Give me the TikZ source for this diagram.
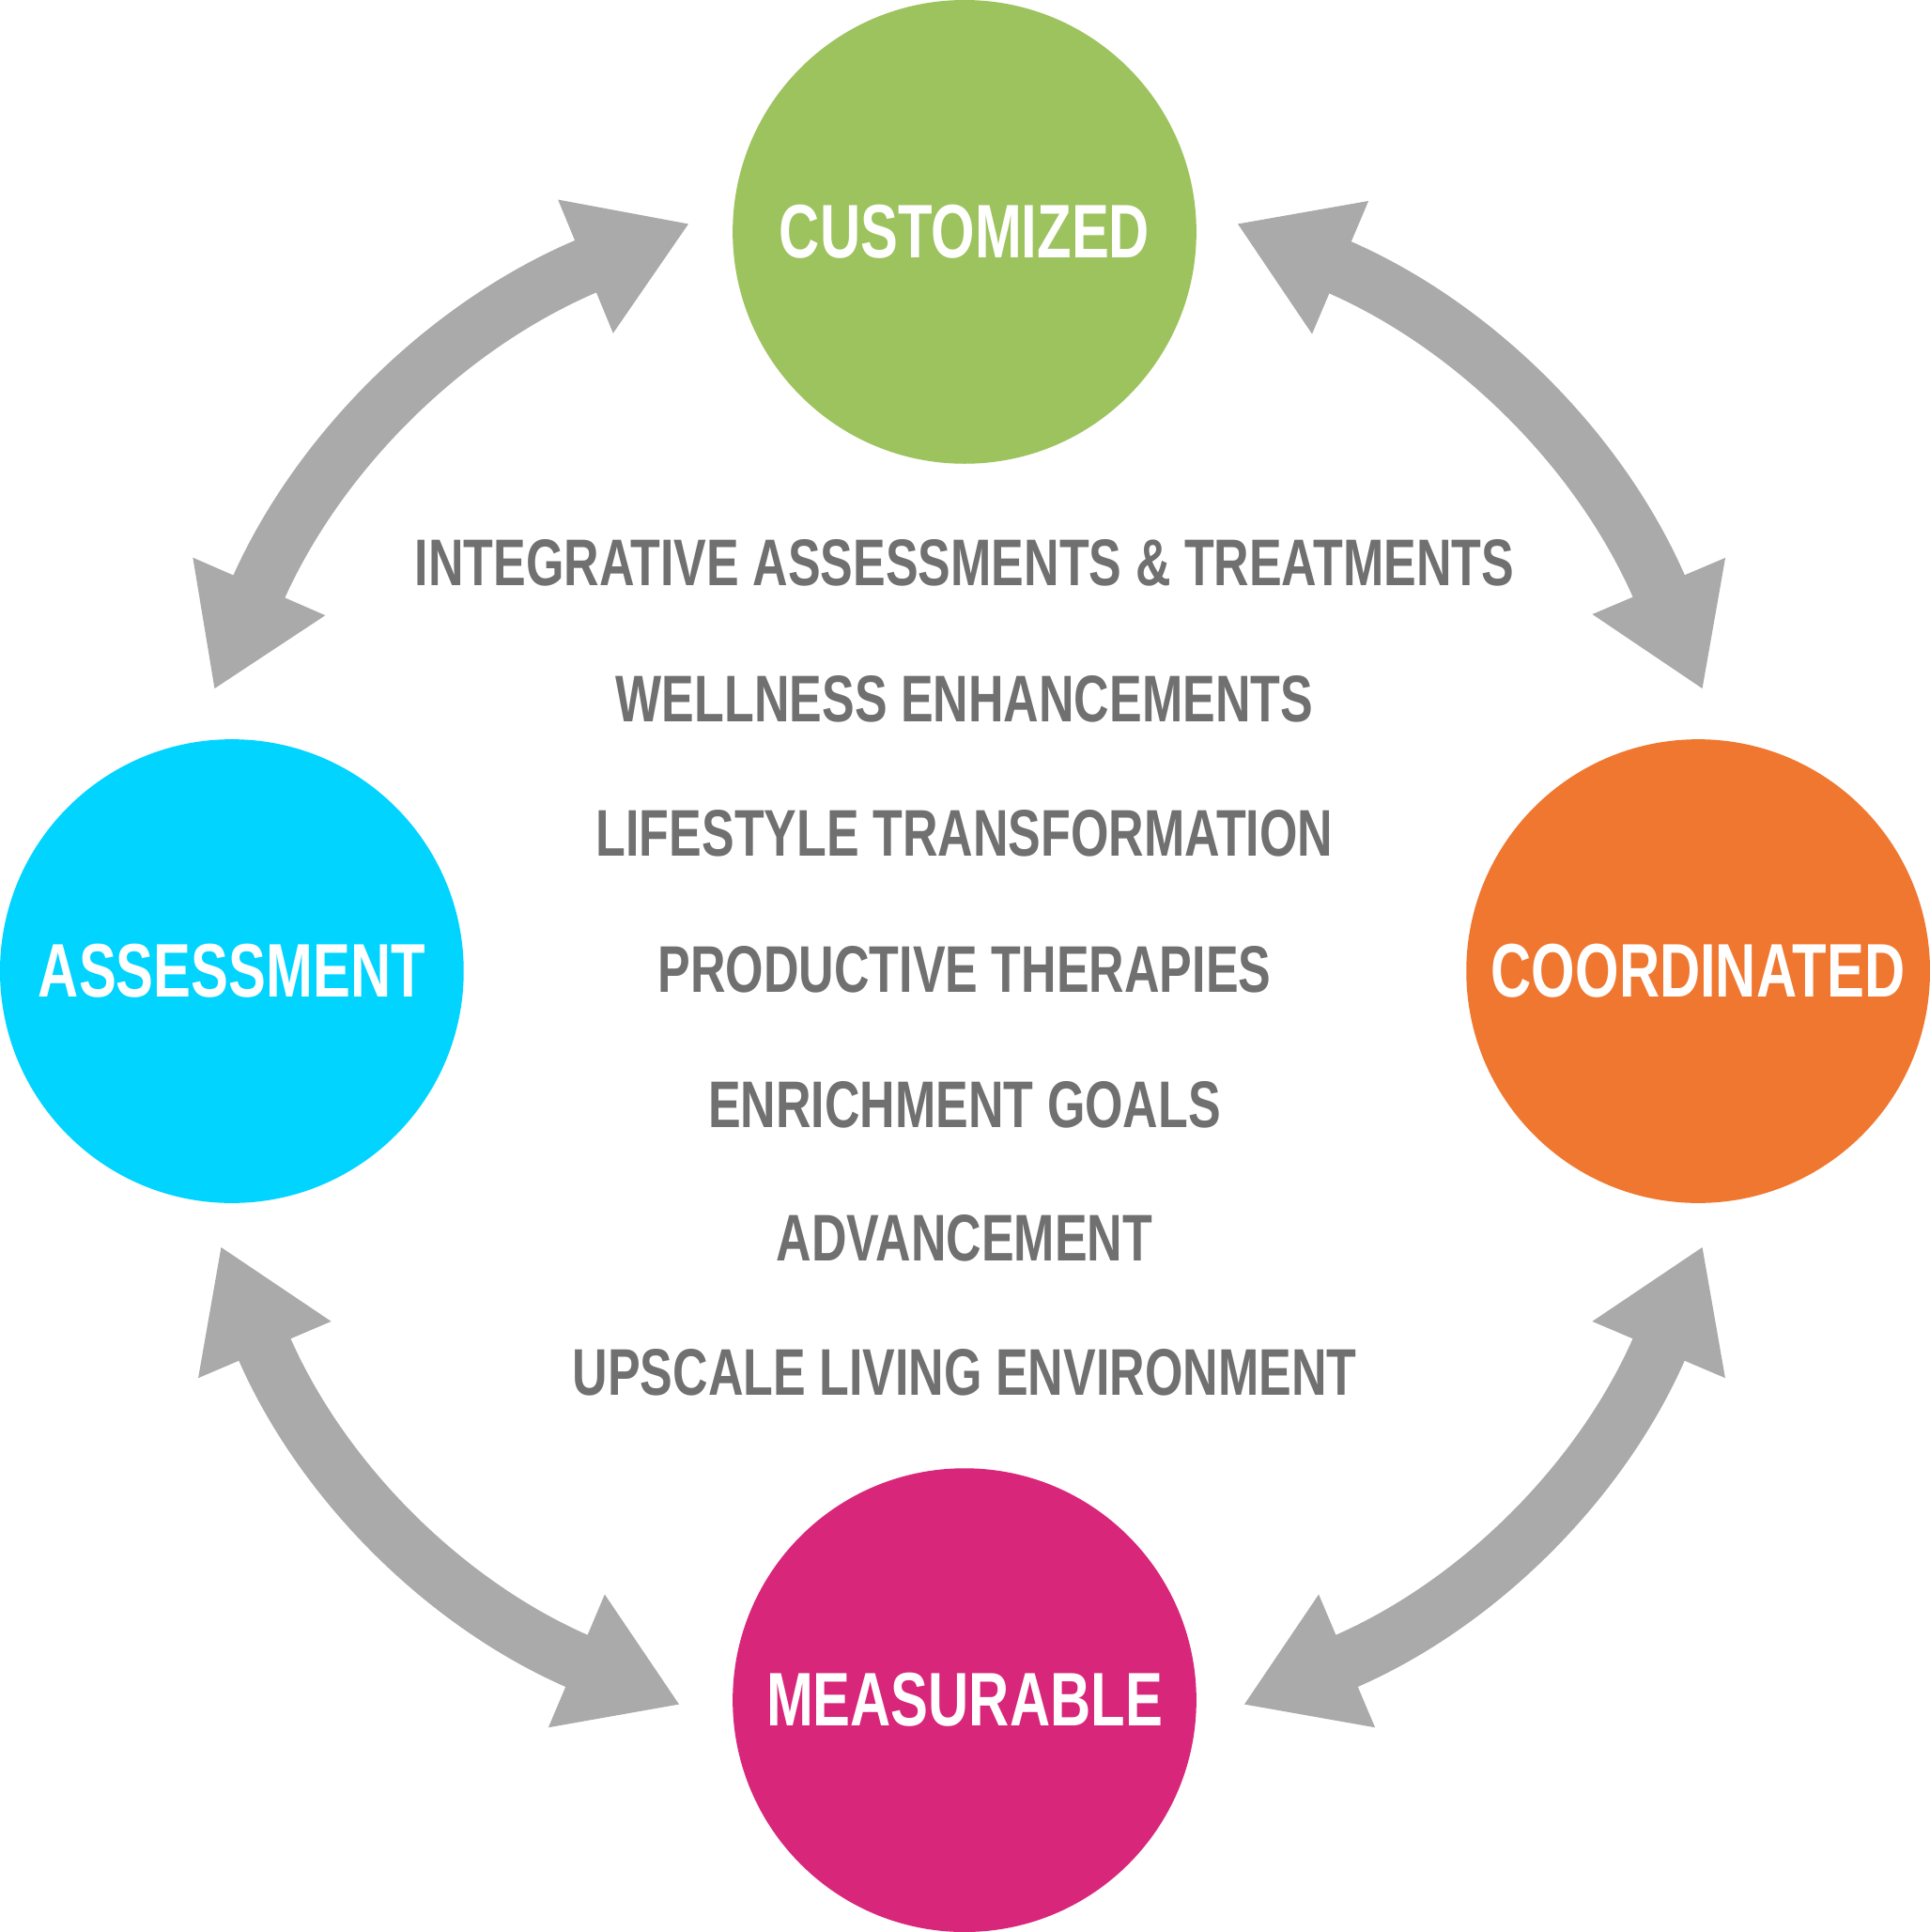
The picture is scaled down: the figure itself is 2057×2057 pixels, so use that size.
\documentclass[tikz,border=0pt]{standalone}
\usepackage{fontspec}
\setmainfont{Liberation Sans}[FakeStretch=0.74]
\usetikzlibrary{arrows.meta}
\definecolor{custgreen}{HTML}{9DC35F}
\definecolor{assesscyan}{HTML}{00D4FF}
\definecolor{coordorange}{HTML}{F07730}
\definecolor{measmagenta}{HTML}{D8277A}
\definecolor{arrowgray}{HTML}{AAAAAA}
\definecolor{textgray}{HTML}{707070}
\begin{document}
\begin{tikzpicture}[x=0.01cm,y=-0.01cm,
    stage/.style={shape=circle, minimum size=4.94cm, inner sep=0pt, text=white, font=\fontsize{23}{23}\selectfont\bfseries},
    item/.style={text=textgray, font=\fontsize{20}{20}\selectfont\bfseries},
    cycle/.style={draw=arrowgray, line width=0.6cm,
      {Triangle[width=1.45cm,length=1.2cm]}-{Triangle[width=1.45cm,length=1.2cm]}}]
    \fill[white] (0,0) rectangle (2057,2057);

    \node[stage, fill=custgreen] (cust) at (1028,247) {CUSTOMIZED};
    \node[stage, fill=assesscyan] (assess) at (247,1035) {ASSESSMENT};
    \node[stage, fill=coordorange] (coord) at (1810,1035) {COORDINATED};
    \node[stage, fill=measmagenta] (meas) at (1028,1812) {MEASURABLE};

    \node[item] (l1) at (1028,600) {INTEGRATIVE ASSESSMENTS \& TREATMENTS};
    \node[item] (l2) at (1028,745) {WELLNESS ENHANCEMENTS};
    \node[item] (l3) at (1028,888) {LIFESTYLE TRANSFORMATION};
    \node[item] (l4) at (1028,1033) {PRODUCTIVE THERAPIES};
    \node[item] (l5) at (1028,1177) {ENRICHMENT GOALS};
    \node[item] (l6) at (1028,1320) {ADVANCEMENT};
    \node[item] (l7) at (1028,1463) {UPSCALE LIVING ENVIRONMENT};

    \coordinate (tlA) at (228,735);
    \coordinate (tlB) at (735,238);
    \coordinate (trA) at (1318,238);
    \coordinate (trB) at (1815,735);
    \coordinate (brA) at (1815,1328);
    \coordinate (brB) at (1325,1817);
    \coordinate (blA) at (725,1817);
    \coordinate (blB) at (235,1328);
    \draw[cycle] (tlA) to[bend left=22] (tlB);
    \draw[cycle] (trA) to[bend left=22] (trB);
    \draw[cycle] (brA) to[bend left=22] (brB);
    \draw[cycle] (blA) to[bend left=22] (blB);
\end{tikzpicture}
\end{document}
